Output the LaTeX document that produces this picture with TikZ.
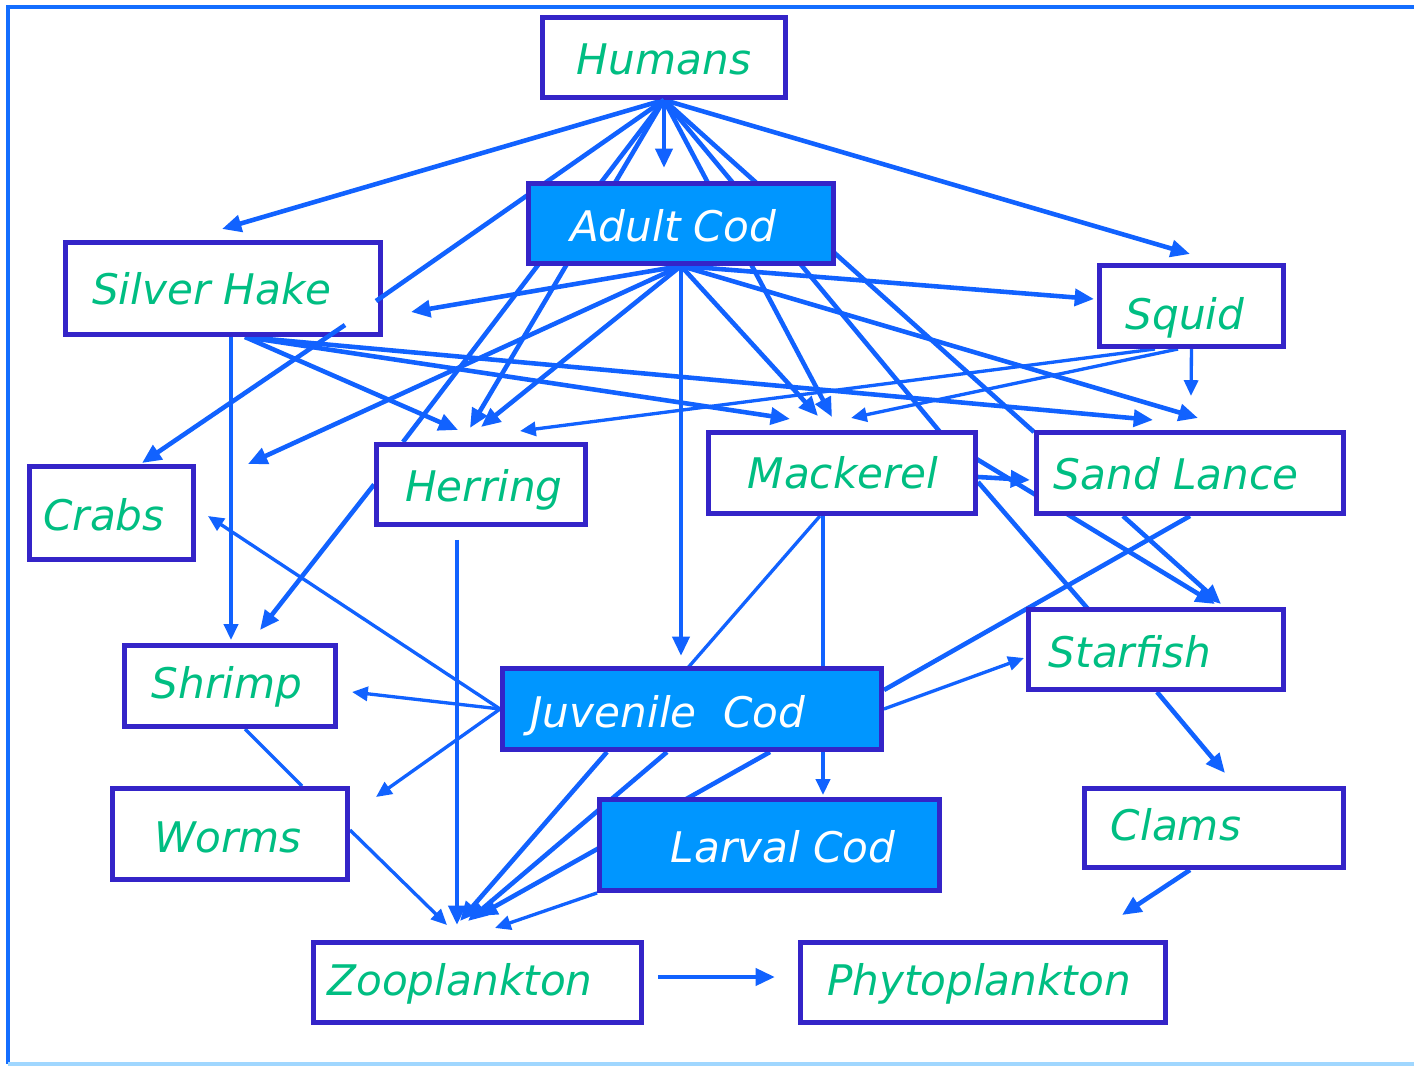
\documentclass[tikz,border=0pt]{standalone}
\usepackage{fontspec}
\setmainfont{DejaVu Sans}
\usetikzlibrary{arrows.meta,backgrounds}
\definecolor{linha}{RGB}{17,98,255}
\definecolor{borda}{RGB}{52,36,200}
\definecolor{bacalhau}{RGB}{0,150,255}
\definecolor{verde}{RGB}{0,190,130}
\definecolor{moldura}{RGB}{20,110,255}
\definecolor{fundo}{RGB}{160,215,255}
\newcommand{\pontas}{%
  % Humans
  \coordinate (tHake)   at (222,229);
  \coordinate (eHake)   at (376,301);
  \coordinate (cHerr)   at (403,442);
  \coordinate (tHerrH)  at (470,428);
  \coordinate (tCod)    at (664,168);
  \coordinate (tMackH)  at (832,417);
  \coordinate (cMack)   at (940,432);
  \coordinate (cSand)   at (1034,432);
  \coordinate (tSquidH) at (1190,254);
  % Adult Cod
  \coordinate (tHakeA)  at (411,312);
  \coordinate (tLeft)   at (248,464);
  \coordinate (tHerrA)  at (481,427);
  \coordinate (tJuv)    at (681,656);
  \coordinate (tMackA)  at (818,416);
  \coordinate (tSquidA) at (1094,299);
  \coordinate (tSandA)  at (1198,418);
  % Silver Hake
  \coordinate (hk1)     at (231,337);
  \coordinate (hk2)     at (345,325);
  \coordinate (hk3)     at (245,337);
  \coordinate (tShrimpS) at (231,640);
  \coordinate (tHerrS)  at (458,430);
  \coordinate (tMackS)  at (790,419);
  \coordinate (tSandS)  at (1153,420);
  \coordinate (tCrabs)  at (142,463);
  % Squid
  \coordinate (sq1)     at (1178,349);
  \coordinate (sq2)     at (1155,349);
  \coordinate (tSandQ)  at (1191,396);
  \coordinate (tMackQ)  at (851,418);
  \coordinate (tHerrQ)  at (520,431);
  % Herring
  \coordinate (hr1)     at (457,540);
  \coordinate (tShrimpH) at (260,630);
  \coordinate (tZooH)   at (457,925);
  % Mackerel
  \coordinate (mk1)     at (823,516);
  \coordinate (mk2)     at (820,516);
  \coordinate (mk3)     at (978,477);
  \coordinate (mk4)     at (975,458);
  \coordinate (mk5)     at (978,482);
  \coordinate (tLarvM)  at (823,795);
  \coordinate (cJuv)    at (686,670);
  \coordinate (tSandM)  at (1030,480);
  \coordinate (tStarM)  at (1215,604);
  \coordinate (cStar)   at (1088,609);
  % Sand Lance, Starfish
  \coordinate (sl1)     at (1123,516);
  \coordinate (sl2)     at (1190,516);
  \coordinate (jv1)     at (884,690);
  \coordinate (tStarL)  at (1221,604);
  \coordinate (sf1)     at (1157,692);
  \coordinate (tClams)  at (1225,773);
  % Juvenile Cod
  \coordinate (tCrabsJ) at (208,516);
  \coordinate (tShrimpJ) at (352,692);
  \coordinate (tWorms)  at (376,797);
  \coordinate (tStarJ)  at (1024,658);
  \coordinate (jv6)     at (607,752);
  \coordinate (jv7)     at (667,752);
  \coordinate (jv8)     at (770,752);
  \coordinate (tZoo1)   at (460,921);
  \coordinate (tZoo2)   at (468,921);
  \coordinate (tZoo3)   at (478,916);
  \coordinate (tZoo4)   at (495,928);
  % Shrimp, Worms, Clams, Zooplankton
  \coordinate (sh1)     at (245,729);
  \coordinate (wo1)     at (302,786);
  \coordinate (wo2)     at (350,830);
  \coordinate (tZoo5)   at (447,925);
  \coordinate (cl1)     at (1190,870);
  \coordinate (tPhyto)  at (1122,915);
  \coordinate (zo1)     at (658,977);
  \coordinate (tPhyto2) at (775,977);
}
\tikzset{
  caixa/.style={rectangle, draw=borda, fill=white, line width=2.8pt, inner sep=0pt},
  caixacod/.style={caixa, fill=bacalhau},
  nome/.style={font=\fontsize{24}{28}\selectfont\itshape, text=verde, inner sep=0pt, anchor=base},
  nomecod/.style={nome, text=white},
  seta/.style={-{Triangle[length=11pt, width=9.5pt]}, linha, line width=2.6pt},
  setafina/.style={-{Triangle[length=9pt, width=8pt]}, linha, line width=1.9pt},
  traco/.style={linha, line width=2.6pt},
  tracofino/.style={linha, line width=1.9pt},
}

\begin{document}
\begin{tikzpicture}[x=0.02cm, y=-0.02cm]
  \useasboundingbox (0,0) rectangle (1414,1067);
  \pontas

  % ---------------- caixas de cima ----------------
  \node[caixa, minimum width=4.86cm, minimum height=1.6cm] (humans) at (664,57.5) {};
  \node[nome] (humansT) at (664,75) {Humans};
  \node[caixa, minimum width=6.3cm, minimum height=1.84cm] (hake) at (223,288.5) {};
  \node[nome] (hakeT) at (212,305) {Silver Hake};
  \node[caixa, minimum width=3.28cm, minimum height=1.86cm] (crabs) at (111.5,513) {};
  \node[nome] (crabsT) at (104,531) {Crabs};

  % linhas que passam por cima da Silver Hake
  \draw[traco] (humans.south) -- (eHake);
  \draw[seta] (hk2) -- (tCrabs);

  % ---------------- demais caixas ----------------
  \node[caixacod, minimum width=6.1cm, minimum height=1.6cm] (adult) at (681,223.5) {};
  \node[nomecod] (adultT) at (673,242) {Adult Cod};
  \node[caixa, minimum width=3.68cm, minimum height=1.62cm] (squid) at (1191.5,306) {};
  \node[nome] (squidT) at (1185,330) {Squid};
  \node[caixa, minimum width=4.18cm, minimum height=1.6cm] (herring) at (481,484.5) {};
  \node[nome] (herringT) at (484,502) {Herring};
  \node[caixa, minimum width=5.34cm, minimum height=1.62cm] (mackerel) at (842,473) {};
  \node[nome] (mackerelT) at (843,489) {Mackerel};
  \node[caixa, minimum width=6.14cm, minimum height=1.62cm] (sand) at (1190,473) {};
  \node[nome] (sandT) at (1176,490) {Sand Lance};
  \node[caixa, minimum width=4.22cm, minimum height=1.62cm] (shrimp) at (230,686) {};
  \node[nome] (shrimpT) at (227,698) {Shrimp};
  \node[caixacod, minimum width=7.58cm, minimum height=1.62cm] (juvenile) at (692,709) {};
  \node[nomecod] (juvenileT) at (668,727) {Juvenile\ \ Cod};
  \node[caixa, minimum width=5.1cm, minimum height=1.6cm] (starfish) at (1156,649.5) {};
  \node[nome] (starfishT) at (1130,667) {Starfish};
  \node[caixa, minimum width=4.7cm, minimum height=1.82cm] (worms) at (230,834) {};
  \node[nome] (wormsT) at (228,852) {Worms};
  \node[caixacod, minimum width=6.8cm, minimum height=1.82cm] (larval) at (769.5,845) {};
  \node[nomecod] (larvalT) at (783,862) {Larval Cod};
  \node[caixa, minimum width=5.18cm, minimum height=1.58cm] (clams) at (1214,828) {};
  \node[nome] (clamsT) at (1176,840) {Clams};
  \node[caixa, minimum width=6.56cm, minimum height=1.6cm] (zoo) at (477.5,982.5) {};
  \node[nome] (zooT) at (460,995) {Zooplankton};
  \node[caixa, minimum width=7.3cm, minimum height=1.6cm] (phyto) at (983,982.5) {};
  \node[nome] (phytoT) at (979,995) {Phytoplankton};

  % ---------------- ligações (por trás das caixas) ----------------
  \begin{scope}[on background layer]
    \fill[white] (0,0) rectangle (1414,1067);
    \draw[moldura, line width=1.8pt] (1414,7) -- (8,7) -- (8,1064);
    \draw[fundo, line width=2pt] (8,1064) -- (1414,1064);
    % Humans
    \foreach \p in {tHake, tHerrH, tCod, tMackH, tSquidH}
      \draw[seta] (humans.south) -- (\p);
    \foreach \p in {cHerr, cMack, cSand}
      \draw[traco] (humans.south) -- (\p);
    % Adult Cod
    \foreach \p in {tHakeA, tLeft, tHerrA, tJuv, tMackA, tSquidA, tSandA}
      \draw[seta] (adult.south) -- (\p);
    % Silver Hake
    \draw[setafina] (hk1) -- (tShrimpS);
    \foreach \p in {tHerrS, tMackS, tSandS}
      \draw[seta] (hk3) -- (\p);
    % Squid
    \draw[setafina] (squid.south) -- (tSandQ);
    \draw[setafina] (sq1) -- (tMackQ);
    \draw[setafina] (sq2) -- (tHerrQ);
    % Herring
    \draw[seta] (herring.west) -- (tShrimpH);
    \draw[seta] (hr1) -- (tZooH);
    % Mackerel
    \draw[setafina] (mk1) -- (tLarvM);
    \draw[tracofino] (mk2) -- (cJuv);
    \draw[seta] (mk3) -- (tSandM);
    \draw[seta] (mk4) -- (tStarM);
    \draw[traco] (mk5) -- (cStar);
    % Sand Lance, Starfish
    \draw[seta] (sl1) -- (tStarL);
    \draw[traco] (sl2) -- (jv1);
    \draw[seta] (sf1) -- (tClams);
    % Juvenile Cod
    \foreach \p in {tCrabsJ, tShrimpJ, tWorms}
      \draw[setafina] (juvenile.west) -- (\p);
    \draw[setafina] (juvenile.east) -- (tStarJ);
    \foreach \a/\b in {jv6/tZoo1, jv7/tZoo2, jv8/tZoo3}
      \draw[seta] (\a) -- (\b);
    % Larval Cod, Worms, Clams, Zooplankton
    \draw[setafina] (larval.south west) -- (tZoo4);
    \draw[tracofino] (sh1) -- (wo1);
    \draw[setafina] (wo2) -- (tZoo5);
    \draw[seta] (cl1) -- (tPhyto);
    \draw[seta] (zo1) -- (tPhyto2);
  \end{scope}
\end{tikzpicture}
\end{document}
